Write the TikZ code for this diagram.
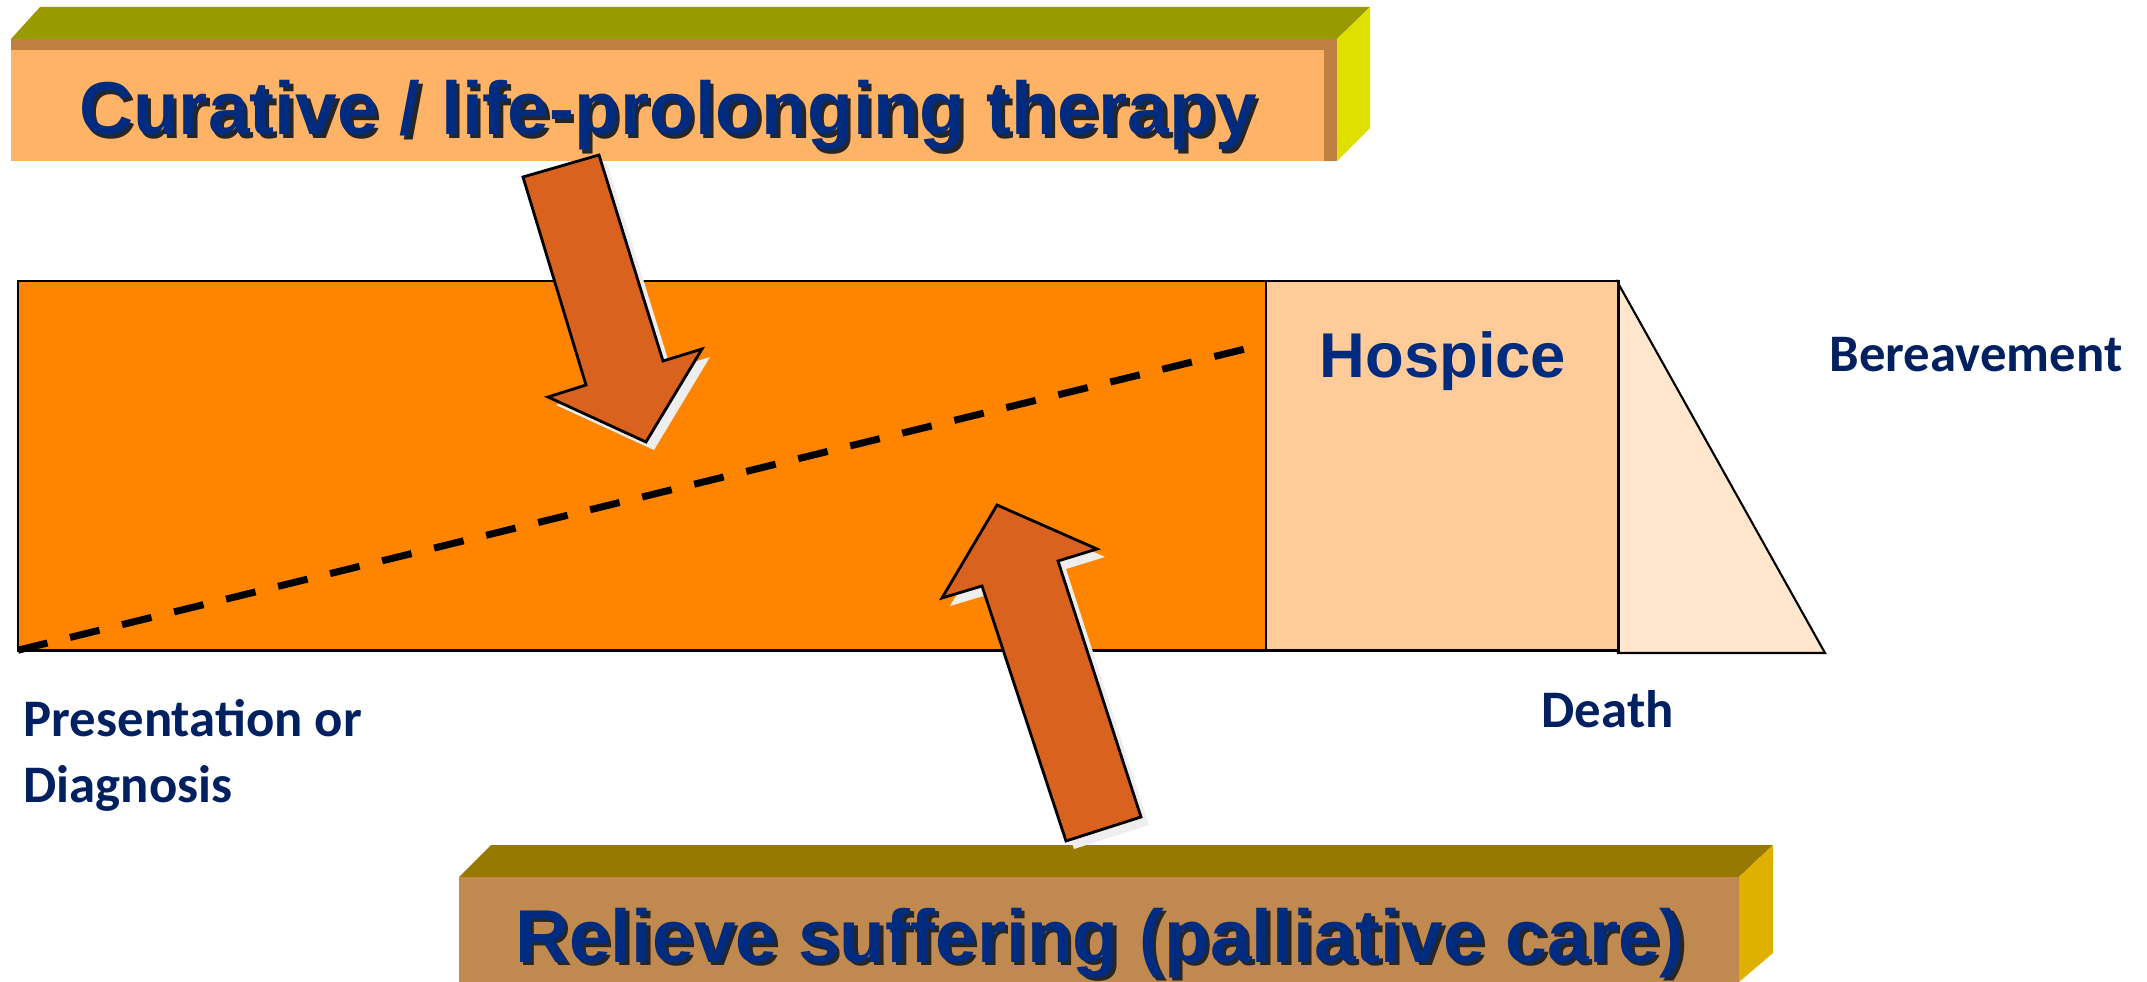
\documentclass[tikz,border=0pt]{standalone}
\usepackage{fontspec}
\usepackage{tikz}

\newfontfamily\arialfont{Liberation Sans}
\newfontfamily\calibrifont{Carlito}

\definecolor{navy}{RGB}{0,43,127}
\definecolor{labelblue}{RGB}{0,32,96}
\definecolor{barorange}{RGB}{255,133,0}
\definecolor{hospicefill}{RGB}{255,204,153}
\definecolor{griefill}{RGB}{255,230,204}
\definecolor{arrowfill}{RGB}{217,98,30}
\definecolor{arrowshade}{RGB}{238,238,238}
\definecolor{curetop}{RGB}{153,153,0}
\definecolor{curerim}{RGB}{192,128,64}
\definecolor{curefront}{RGB}{255,179,102}
\definecolor{cureside}{RGB}{224,224,0}
\definecolor{caretop}{RGB}{151,120,0}
\definecolor{carefront}{RGB}{192,137,79}
\definecolor{careside}{RGB}{224,176,0}

\newcommand{\shadowed}[1]{\makebox[0pt][l]{\hspace{1pt}\raisebox{-1pt}{\color{black!85}#1}}#1}

\tikzset{
    bannertext/.style={anchor=base, inner sep=0, text=navy, font=\arialfont\bfseries\fontsize{21.3}{25}\selectfont},
    marklabel/.style={anchor=base west, inner sep=0, text=labelblue, font=\calibrifont\bfseries\fontsize{15}{18.5}\selectfont},
    blockarrow/.style={draw, thick, fill=arrowfill, line join=miter},
    arrowshadow/.style={fill=arrowshade, shift={(8,8)}}
}

\begin{document}
\begin{tikzpicture}[x=0.01cm, y=-0.01cm]
\useasboundingbox (0,0) rectangle (2147,982);

% curative banner
\fill[curetop] (11,39) -- (40,7) -- (1370,7) -- (1337,39) -- cycle;
\fill[curerim] (11,39) rectangle (1337,161);
\fill[curefront] (11,50) rectangle (1324,161);
\fill[cureside] (1337,39) -- (1370,7) -- (1370,128) -- (1337,161) -- cycle;

% palliative banner
\fill[caretop] (459,877) -- (491,845) -- (1773,845) -- (1739,877) -- cycle;
\fill[carefront] (459,877) rectangle (1739,982);
\fill[careside] (1739,877) -- (1773,845) -- (1773,953) -- (1739,982) -- cycle;

% timeline
\draw[fill=griefill, semithick] (1618,283) -- (1825,653) -- (1618,653) -- cycle;
\begin{scope}[every node/.style={draw, thick, anchor=north west, inner sep=0, outer sep=0}]
    \node[fill=barorange, minimum width=12.48cm, minimum height=3.69cm] (bar) at (18,281) {};
    \node[fill=hospicefill, minimum width=3.52cm, minimum height=3.69cm] (hospice) at (1266,281) {};
\end{scope}

\coordinate (dashend) at (1245,349);
\draw[line width=2pt, dash pattern=on 8.63pt off 6.6pt] (bar.south west) -- (dashend);

% arrows
\fill[arrowshadow] (523,177) -- (599,155) -- (663,361) -- (702,349) -- (646,442) -- (548,397) -- (586,385) -- cycle;
\draw[blockarrow] (523,177) -- (599,155) -- (663,361) -- (702,349) -- (646,442) -- (548,397) -- (586,385) -- cycle;

\fill[arrowshadow] (997,505) -- (1097,549) -- (1058,561) -- (1141,817) -- (1066,841) -- (982,586) -- (942,598) -- cycle;
\draw[blockarrow] (997,505) -- (1097,549) -- (1058,561) -- (1141,817) -- (1066,841) -- (982,586) -- (942,598) -- cycle;

% texts
\node[bannertext] (curelabel) at (668,135) {\shadowed{Curative / life-prolonging therapy}};
\node[bannertext] (carelabel) at (1100,962) {\shadowed{Relieve suffering (palliative care)}};
\node[anchor=base, inner sep=0, text=navy, font=\arialfont\bfseries\fontsize{18}{22}\selectfont] (hospicelabel) at (1443,377) {Hospice};

\node[marklabel] (bereave) at (1829,372) {Bereavement};
\node[marklabel] (death) at (1541,728) {Death};
\node[marklabel, align=left] (diagnosis) at (23,802) {Presentation or\\Diagnosis};

\end{tikzpicture}
\end{document}
